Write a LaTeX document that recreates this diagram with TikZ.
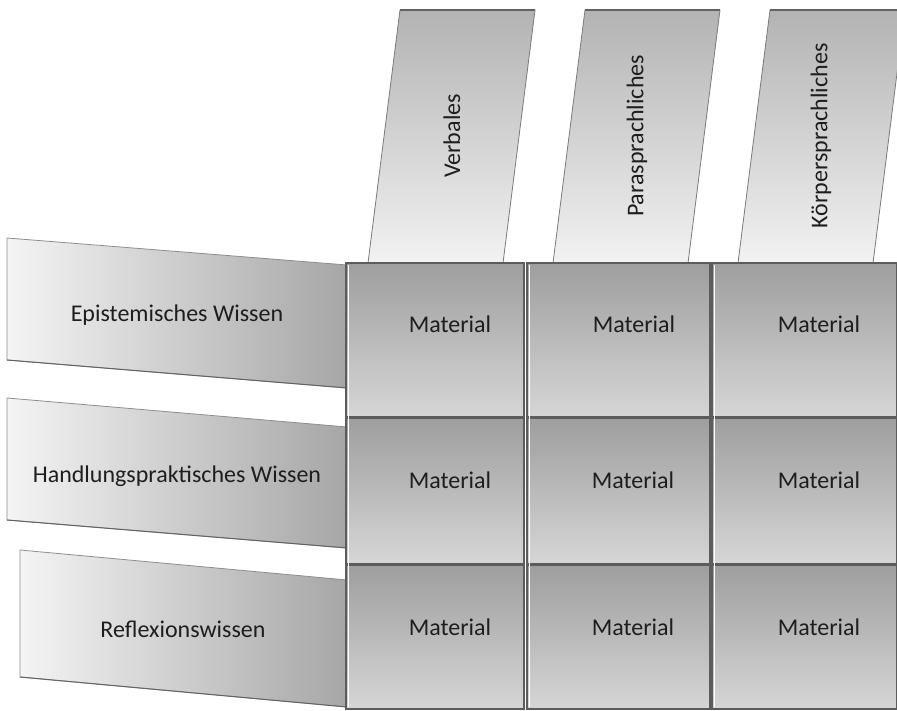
\documentclass[tikz,border=0pt]{standalone}
\usepackage{fontspec}
\setmainfont{Carlito}

\definecolor{celltop}{HTML}{9E9E9E}
\definecolor{cellbottom}{HTML}{D6D6D6}
\definecolor{cellline}{HTML}{5C5C5C}
\definecolor{headtop}{HTML}{B3B3B3}
\definecolor{headbottom}{HTML}{F2F2F2}
\definecolor{headline}{HTML}{7A7A7A}
\definecolor{rowleft}{HTML}{F4F4F4}
\definecolor{rowright}{HTML}{A6A6A6}
\definecolor{rowline}{HTML}{8E8E8E}
\definecolor{ink}{HTML}{1E1E1E}

\tikzset{
  cell/.style={draw=cellline, line width=1.2pt, top color=celltop, bottom color=cellbottom},
  glint/.style={white, line width=1.4pt},
  colhead/.style={draw=headline, line width=0.8pt, top color=headtop, bottom color=headbottom},
  rowhead/.style={draw=rowline, line width=0.8pt, left color=rowleft, right color=rowright},
  txt/.style={text=ink, font=\fontsize{24}{28}\selectfont, inner sep=0pt},
}

\begin{document}
\begin{tikzpicture}[x=1pt, y=-1pt]
            \useasboundingbox (0,0) rectangle (897,711);
            \clip (0,0) rectangle (897,711);
            \fill[white] (0,0) rectangle (897,711);

            \path[colhead] (368,263) -- (400,10) -- (535,10) -- (503,263) -- cycle;
            \path[colhead] (553,263) -- (585,10) -- (720,10) -- (688,263) -- cycle;
            \path[colhead] (738,263) -- (770,10) -- (905,10) -- (873,263) -- cycle;
            \draw[headline!80!black, line width=1.6pt] (400,10) -- (535,10);
            \draw[headline!80!black, line width=1.6pt] (585,10) -- (720,10);
            \draw[headline!80!black, line width=1.6pt] (770,10) -- (905,10);
            \node[txt, rotate=90] (verb) at (452,136) {Verbales};
            \node[txt, rotate=90] (para) at (637,136) {Parasprachliches};
            \node[txt, rotate=90] (koerp) at (821,136) {Körpersprachliches};

            \path[rowhead] (7,238) -- (347,265) -- (347,388) -- (7,360) -- cycle;
            \path[rowhead] (7,398) -- (347,427) -- (347,548) -- (7,520) -- cycle;
            \path[rowhead] (20,550) -- (347,580) -- (347,707) -- (20,677) -- cycle;
            \draw[rowline!70!black, line width=1pt] (7,360) -- (347,388);
            \draw[rowline!70!black, line width=1pt] (7,520) -- (347,548);
            \draw[rowline!70!black, line width=1pt] (20,677) -- (347,707);
            \node[txt, anchor=base] (epi) at (177,322) {Epistemisches Wissen};
            \node[txt, anchor=base] (hand) at (177,482) {Handlungspraktisches Wissen};
            \node[txt, anchor=base] (refl) at (183,637) {Reflexionswissen};

            \path[cell] (346,263) rectangle (524,417);
            \path[cell] (527,263) rectangle (710,417);
            \path[cell] (712,263) rectangle (897,417);
            \path[cell] (346,418) rectangle (524,564);
            \path[cell] (527,418) rectangle (710,564);
            \path[cell] (712,418) rectangle (897,564);
            \path[cell] (346,565) rectangle (524,709);
            \path[cell] (527,565) rectangle (710,709);
            \path[cell] (712,565) rectangle (897,709);
            \draw[glint] (348.5,265) -- (348.5,707);
            \draw[glint] (529.5,265) -- (529.5,707);
            \draw[glint] (714.5,265) -- (714.5,707);

            \node[txt, anchor=base] (m11) at (450,333) {Material};
            \node[txt, anchor=base] (m12) at (634,333) {Material};
            \node[txt, anchor=base] (m13) at (819,333) {Material};
            \node[txt, anchor=base] (m21) at (450,488) {Material};
            \node[txt, anchor=base] (m22) at (633,488) {Material};
            \node[txt, anchor=base] (m23) at (819,488) {Material};
            \node[txt, anchor=base] (m31) at (450,635) {Material};
            \node[txt, anchor=base] (m32) at (633,635) {Material};
            \node[txt, anchor=base] (m33) at (819,635) {Material};
        \end{tikzpicture}
\end{document}
